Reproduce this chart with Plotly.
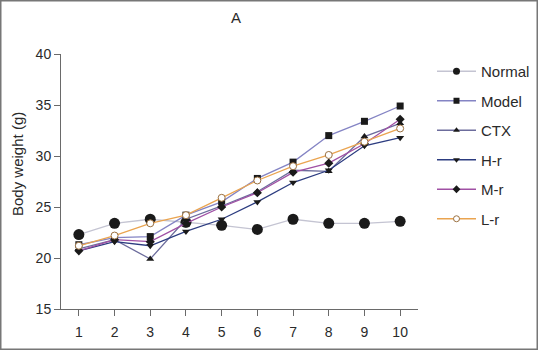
import plotly.graph_objects as go

days = [1, 2, 3, 4, 5, 6, 7, 8, 9, 10]
normal = [22.3, 23.4, 23.8, 23.5, 23.2, 22.8, 23.8, 23.4, 23.4, 23.6]
model = [21.3, 22.0, 22.1, 24.2, 25.5, 27.8, 29.4, 32.0, 33.4, 34.9]
ctx = [20.9, 21.8, 19.9, 23.8, 25.1, 26.5, 28.6, 28.5, 31.9, 33.2]
h_r = [20.7, 21.6, 21.2, 22.6, 23.8, 25.5, 27.4, 28.6, 31.0, 31.8]
m_r = [20.7, 21.8, 21.6, 23.4, 25.0, 26.4, 28.4, 29.3, 31.2, 33.6]
l_r = [21.2, 22.2, 23.4, 24.2, 25.9, 27.6, 29.0, 30.1, 31.4, 32.7]
y_ticks = [15, 20, 25, 30, 35, 40]

FONT = "Arial, Liberation Sans, sans-serif"

series = [
    ("Normal", normal, "#c4c4d2", dict(symbol="circle", size=11, color="#1a1a1a"), 7),
    ("Model", model, "#8484c4", dict(symbol="square", size=7, color="#1a1a1a"), 6),
    ("CTX", ctx, "#6c6c9c", dict(symbol="triangle-up", size=7, color="#1a1a1a"), 6),
    ("H-r", h_r, "#2c3c80", dict(symbol="triangle-down", size=7, color="#1a1a1a"), 6),
    ("M-r", m_r, "#a050a4", dict(symbol="diamond", size=7, color="#1a1a1a"), 6),
    ("L-r", l_r, "#eaa450", dict(symbol="circle", size=7, color="white",
                                 line=dict(color="#9a7040", width=1)), 6),
]

fig = go.Figure()
for name, vals, lc, mk, _ in series:
    fig.add_trace(go.Scatter(
        x=days, y=vals, name=name, mode="lines+markers", showlegend=False,
        line=dict(color=lc, width=1.3), marker=mk,
    ))
# legend entries with the smaller legend symbols of the original
for name, vals, lc, mk, lsize in series:
    lmk = dict(mk)
    lmk["size"] = lsize
    fig.add_trace(go.Scatter(
        x=[None], y=[None], name=name, mode="lines+markers", legendgroup=name,
        line=dict(color=lc, width=1.3), marker=lmk,
    ))

fig.update_layout(
    width=538, height=350,
    margin=dict(l=61, r=120, t=54, b=41, autoexpand=False),
    paper_bgcolor="white", plot_bgcolor="white",
    font=dict(family=FONT, size=14, color="#2a2a2a"),
    showlegend=True,
    legend=dict(x=432 / 538, xanchor="left", xref="container",
                y=1 - 55 / 350, yanchor="top", yref="container",
                font=dict(size=15, color="#2a2a2a"), maxheight=400,
                tracegroupgap=7, bgcolor="rgba(0,0,0,0)", itemwidth=39),
    xaxis=dict(range=[0.5, 10.5], tickvals=days, showgrid=False, zeroline=False,
               showline=True, linecolor="#6a6a6a", linewidth=1, automargin=False,
               ticks="outside", ticklen=6, tickcolor="#6a6a6a", ticklabelstandoff=4),
    yaxis=dict(range=[15, 40], tickvals=y_ticks, showgrid=False, zeroline=False,
               showline=True, linecolor="#6a6a6a", linewidth=1, automargin=False,
               ticks="outside", ticklen=6, tickcolor="#6a6a6a"),
    annotations=[
        dict(text="A", xref="paper", yref="paper",
             x=(236 - 61) / 357, y=1 + (54 - 17) / 255, showarrow=False,
             font=dict(size=15, color="#2a2a2a"), xanchor="center", yanchor="middle"),
        dict(text="Body weight (g)", xref="paper", yref="paper",
             x=(17 - 61) / 357, y=(309 - 164) / 255, textangle=-90, showarrow=False,
             font=dict(size=15, color="#2a2a2a"), xanchor="center", yanchor="middle"),
    ],
    shapes=[
        dict(type="rect", xref="paper", yref="paper",
             x0=(0.75 - 61) / 357, x1=(537.25 - 61) / 357,
             y0=(309 - 349.25) / 255, y1=(309 - 0.75) / 255,
             line=dict(color="#777777", width=1.5), fillcolor="rgba(0,0,0,0)"),
    ],
)

fig.write_html("out.html", config={"displayModeBar": False},
               post_script="document.body.style.margin='0';document.body.style.overflow='hidden';")
